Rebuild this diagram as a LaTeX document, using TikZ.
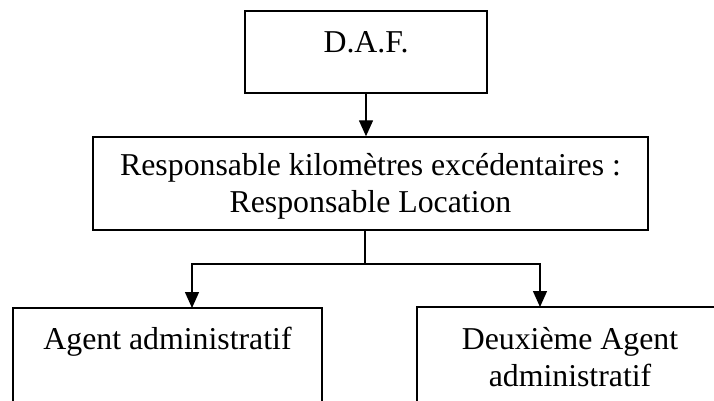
\documentclass[tikz,border=0pt]{standalone}
\usepackage{fontspec}
\setmainfont{Liberation Serif}
\usepackage{tikz}
\usetikzlibrary{arrows.meta, positioning, calc}

\begin{document}
\begin{tikzpicture}[
            x=1pt, y=-1pt,
            >={Triangle[length=16pt,width=14pt]}, % Filled arrow tips
            % Org chart box style
            orgbox/.style={
                rectangle,
                draw=black,
                line width=1.4pt,
                inner sep=0pt,
                align=center,
                font=\fontsize{31.8}{37}\selectfont
            },
            line/.style={
                draw,
                ->,
                line width=1.4pt
            }
        ]
        \useasboundingbox (0,0) rectangle (714,401);

        % --- Nodes ---
        \node [orgbox, minimum width=242pt, text height=42pt, text depth=40pt] (daf) at (366,52) {D.A.F.};
        \node [orgbox, minimum width=555pt, text height=75pt, text depth=18pt] (resp) at (370.5,183.5)
            {Responsable kilomètres excédentaires :\\Responsable Location};
        \node [orgbox, minimum width=309pt, text height=41pt, text depth=79pt] (agent) at (167.5,368)
            {Agent administratif};
        \node [orgbox, minimum width=306pt, text height=79pt, text depth=41pt] (deux) at (570,367)
            {Deuxième Agent\\administratif};

        \coordinate (split) at (365,264);
        \coordinate (toagent) at (192,308);
        \coordinate (todeux) at (540,307);

        % --- Edges ---
        \path [line] (daf) -- (daf |- resp.north);
        \draw [line width=1.4pt] (resp.south -| split) -- (split);
        \path [line] (split) -| (toagent);
        \path [line] (split) -| (todeux);

        \end{tikzpicture}
\end{document}
